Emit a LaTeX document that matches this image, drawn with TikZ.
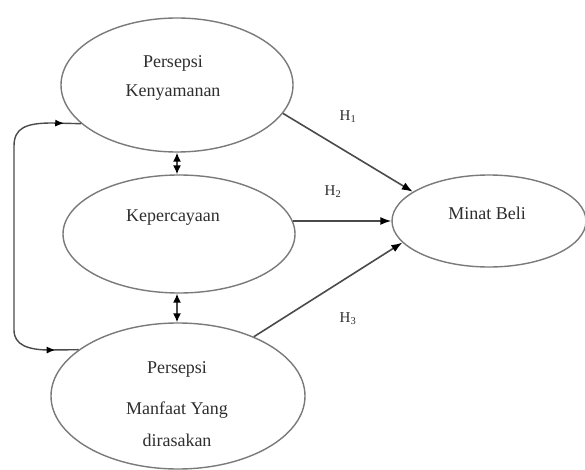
\documentclass[tikz,border=0pt]{standalone}
\usepackage{fontspec}
\setmainfont{Liberation Serif}
\usetikzlibrary{shapes.geometric,arrows.meta,decorations.markings}
\definecolor{ellgray}{HTML}{7A7A7A}
\definecolor{linegray}{HTML}{4A4A4A}
\definecolor{txtgray}{HTML}{2E2E2E}
\begin{document}
\begin{tikzpicture}[x=1pt,y=-1pt,
  ell/.style={ellipse,draw=ellgray,line width=1.4pt,inner sep=0pt},
  txt/.style={text=txtgray,font=\fontsize{18}{21}\selectfont,inner sep=0pt},
  hlab/.style={text=txtgray,font=\fontsize{15}{18}\selectfont,inner sep=0pt},
  tip/.style={Latex[length=11pt,width=8pt,fill=black,color=black]},
  arr/.style={draw=linegray,line width=1.6pt,-{Latex[length=11pt,width=8pt,color=black]}},
  dbl/.style={draw=linegray,line width=1.5pt,{Latex[length=9pt,width=8pt,color=black]}-{Latex[length=9pt,width=8pt,color=black]}},
  loopline/.style={draw=linegray,line width=1.4pt}
]
\useasboundingbox (0,0) rectangle (585,470);
\fill[white] (0,0) rectangle (585,470);

\node[ell,minimum width=232pt,minimum height=134pt] (pk) at (177,85) {};
\node[ell,minimum width=232pt,minimum height=118pt] (ke) at (179,234) {};
\node[ell,minimum width=254pt,minimum height=146pt] (pm) at (178,396) {};
\node[ell,minimum width=194pt,minimum height=92pt] (mb) at (489,221) {};

\node[txt] (t1a) at (173,63) {Persepsi};
\node[txt] (t1b) at (173,93) {Kenyamanan};
\node[txt] (t2) at (173,218) {Kepercayaan};
\node[txt] (t3a) at (177,369) {Persepsi};
\node[txt] (t3b) at (177,410) {Manfaat Yang};
\node[txt] (t3c) at (177,440) {dirasakan};
\node[txt] (t4) at (487,213) {Minat Beli};

\node[hlab] (h1) at (348,117) {H\textsubscript{1}};
\node[hlab] (h2) at (333,192) {H\textsubscript{2}};
\node[hlab] (h3) at (348,319) {H\textsubscript{3}};

\draw[arr] (pk.-15) -- (mb.159);
\draw[arr] ([xshift=-3pt]mb.west -| ke.east) -- (mb.west);
\draw[arr] (pm.38) -- (mb.194);

\draw[dbl] (pk.south) -- (pk.south |- ke.north);
\draw[dbl] (ke.south -| pk.south) -- (pm.north -| pk.south);

\draw[loopline,
  postaction={decorate,decoration={markings,
    mark=at position 17pt with {\arrowreversed[black]{Latex[length=9pt,width=7pt]}},
    mark=at position -23pt with {\arrow[black]{Latex[length=9pt,width=7pt]}}}}]
  (pk.202) -- (52,123) .. controls (26,123) and (14,128) .. (14,146)
  -- (14,330) .. controls (14,345) and (28,350) .. (50,350) -- (pm.155);
\end{tikzpicture}
\end{document}
